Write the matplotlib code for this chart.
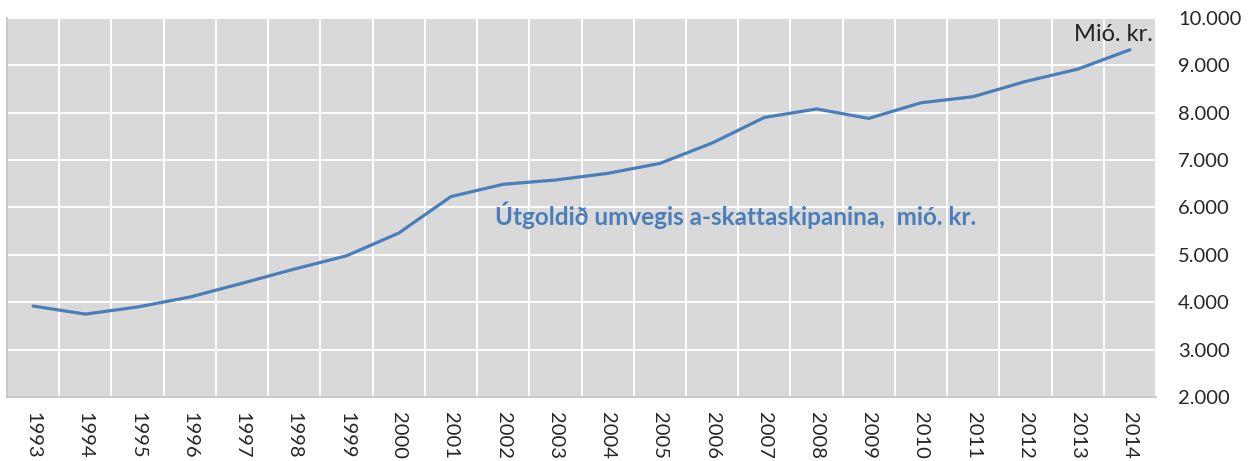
import numpy as np
import matplotlib.pyplot as plt
from matplotlib.ticker import FuncFormatter, MultipleLocator

# Data (mió. kr.)
years = list(range(1993, 2015))
values = [3920, 3750, 3900, 4110, 4400, 4700, 4980, 5460, 6230, 6490, 6580,
          6720, 6930, 7360, 7900, 8080, 7880, 8210, 8340, 8660, 8920, 9330]

line_color = '#4a7ebb'
text_color = '#262626'

plt.rcParams['font.family'] = ['Lato', 'DejaVu Sans']

fig = plt.figure(figsize=(12.53, 4.61), dpi=100)
ax = fig.add_axes([7 / 1253, 1 - 397 / 461, 1149 / 1253, 379 / 461])
ax.set_facecolor('#d9d9d9')

x = np.arange(len(years))
ax.plot(x, values, color=line_color, lw=2.3, solid_capstyle='round')

# axes and grid
ax.set_xlim(-0.5, len(years) - 0.5)
ax.set_ylim(2000, 10000)
ax.yaxis.set_major_locator(MultipleLocator(1000))
ax.yaxis.set_major_formatter(FuncFormatter(lambda v, p: f"{int(v):,}".replace(',', '.')))
ax.yaxis.tick_right()
ax.set_xticks(x)
ax.set_xticklabels([str(y) for y in years], rotation=-90, va='top', ha='center')
ax.set_xticks(np.arange(-0.5, len(years), 1), minor=True)
ax.tick_params(axis='x', which='both', length=0, pad=11, labelsize=14.5, colors=text_color)
ax.tick_params(axis='y', length=0, pad=16, labelsize=14.5, colors=text_color)
ax.grid(True, which='minor', axis='x', color='white', lw=1.4)
ax.grid(True, which='major', axis='y', color='white', lw=1.4)
ax.grid(False, which='major', axis='x')
ax.set_axisbelow(True)

for side in ['top', 'right']:
    ax.spines[side].set_visible(False)
for side in ['left', 'bottom']:
    ax.spines[side].set_color('#bfbfbf')
    ax.spines[side].set_linewidth(1.2)

# texts
ax.text(0.997, 0.985, 'Mió. kr.', transform=ax.transAxes, ha='right', va='top',
        fontsize=17, color='#222222')
ax.text(8.85, 5830, 'Útgoldið umvegis a-skattaskipanina,  mió. kr.', ha='left', va='center',
        fontsize=17.5, fontweight='bold', color=line_color)

fig.savefig('out.png', dpi=100)
